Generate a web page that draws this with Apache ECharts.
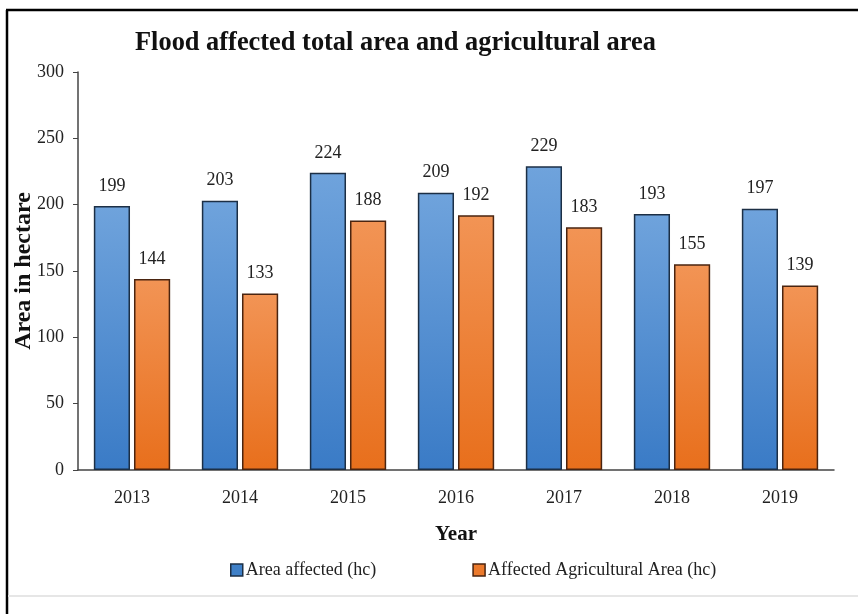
<!DOCTYPE html>
<html>
<head>
<meta charset="utf-8">
<script src="https://cdn.jsdelivr.net/npm/echarts@6/dist/echarts.min.js"></script>
<style>
  html, body { margin: 0; padding: 0; background: #fff; }
  #chart { width: 858px; height: 614px; }
</style>
</head>
<body>
<div id="chart"></div>
<script>
const years = ['2013', '2014', '2015', '2016', '2017', '2018', '2019'];
const areaAffected = [199, 203, 224, 209, 229, 193, 197];
const agriArea = [144, 133, 188, 192, 183, 155, 139];

const serif = 'Liberation Serif';

const chart = echarts.init(document.getElementById('chart'));

const blueFill = new echarts.graphic.LinearGradient(0, 0, 0, 1, [
  { offset: 0, color: '#6fa3dc' },
  { offset: 1, color: '#3a7bc6' }
]);
const orangeFill = new echarts.graphic.LinearGradient(0, 0, 0, 1, [
  { offset: 0, color: '#f29455' },
  { offset: 1, color: '#e86f1c' }
]);

const labelStyle = {
  show: true,
  position: 'top',
  distance: 11,
  fontFamily: serif,
  fontSize: 18,
  color: '#222'
};

const option = {
  backgroundColor: '#fff',
  animation: false,
  title: {
    text: 'Flood affected total area and agricultural area',
    left: 130,
    top: 25,
    textStyle: { fontFamily: serif, fontSize: 26.4, fontWeight: 'bold', color: '#111' }
  },
  legend: {
    top: 556,
    left: 225,
    icon: 'rect',
    itemWidth: 12,
    itemHeight: 12,
    itemGap: 96,
    textStyle: { fontFamily: serif, fontSize: 18, color: '#222', padding: [0, 0, 0, -2] },
    data: [
      { name: 'Area affected (hc)', itemStyle: { color: '#3f80c8', borderColor: '#1c2f45', borderWidth: 1.5 } },
      { name: 'Affected Agricultural Area (hc)', itemStyle: { color: '#ec7a2c', borderColor: '#4a2410', borderWidth: 1.5 } }
    ]
  },
  graphic: [
    { type: 'line', shape: { x1: 7, y1: 10, x2: 7, y2: 614 }, style: { stroke: '#000', lineWidth: 2.5 } },
    { type: 'line', shape: { x1: 6, y1: 10, x2: 858, y2: 10 }, style: { stroke: '#000', lineWidth: 2.5 } },
    { type: 'line', shape: { x1: 8, y1: 596, x2: 858, y2: 596 }, style: { stroke: '#e6e6e6', lineWidth: 2 } }
  ],
  grid: { left: 78, right: 24, top: 72, bottom: 144, outerBoundsMode: 'none' },
  xAxis: {
    type: 'category',
    data: years,
    name: 'Year',
    nameLocation: 'middle',
    nameGap: 54,
    nameTextStyle: { fontFamily: serif, fontSize: 21, fontWeight: 'bold', color: '#111' },
    axisLine: { lineStyle: { color: '#444', width: 1.5 } },
    axisTick: { show: false },
    axisLabel: { fontFamily: serif, fontSize: 18, color: '#222', margin: 19 }
  },
  yAxis: {
    type: 'value',
    min: 0,
    max: 300,
    interval: 50,
    name: 'Area in hectare',
    nameLocation: 'middle',
    nameGap: 42,
    nameMoveOverlap: false,
    nameTextStyle: { fontFamily: serif, fontSize: 24, fontWeight: 'bold', color: '#111' },
    axisLine: { show: true, lineStyle: { color: '#444', width: 1.5 } },
    axisTick: { show: true, length: 5, lineStyle: { color: '#444' } },
    splitLine: { show: false },
    axisLabel: { fontFamily: serif, fontSize: 18, color: '#222', margin: 14 }
  },
  series: [
    {
      name: 'Area affected (hc)',
      type: 'bar',
      data: areaAffected,
      barWidth: '33.5%',
      barGap: '11%',
      itemStyle: { color: blueFill, borderColor: '#1c2f45', borderWidth: 1.5 },
      label: labelStyle
    },
    {
      name: 'Affected Agricultural Area (hc)',
      type: 'bar',
      data: agriArea,
      barWidth: '33.5%',
      itemStyle: { color: orangeFill, borderColor: '#4a2410', borderWidth: 1.5 },
      label: labelStyle
    }
  ]
};

chart.setOption(option);
</script>
</body>
</html>
